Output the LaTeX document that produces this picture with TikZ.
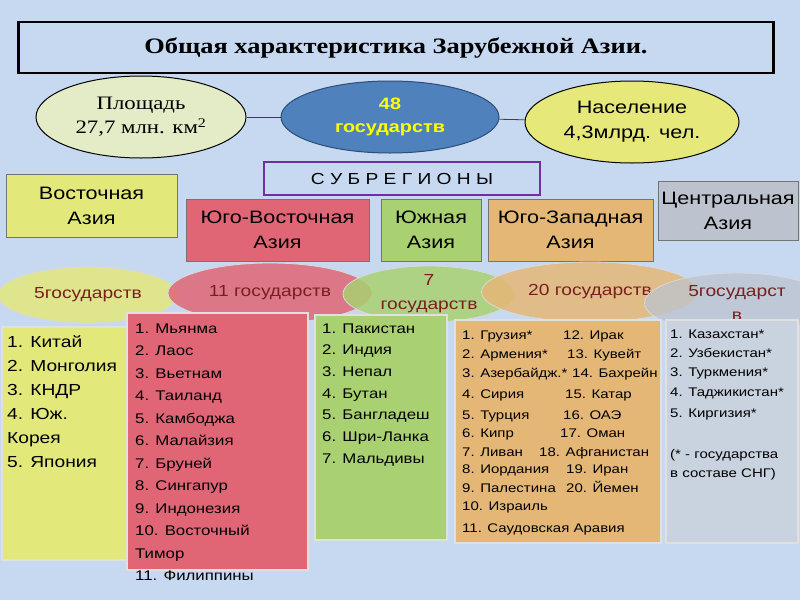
\documentclass[tikz,border=0pt]{standalone}
\usepackage{fontspec}
\setmainfont[FakeStretch=1.2]{Liberation Sans}
\newfontfamily\serifwide[FakeStretch=1.2]{Liberation Serif}
\usetikzlibrary{shapes.geometric}

\definecolor{slide_blue}{HTML}{C6D9F1}
\definecolor{east_green}{HTML}{E3E87B}
\definecolor{se_red}{HTML}{E06676}
\definecolor{south_green}{HTML}{A9D171}
\definecolor{sw_orange}{HTML}{E5B776}
\definecolor{central_grey}{HTML}{BCC3CE}
\definecolor{central_list}{HTML}{C9D2DF}
\definecolor{count_text}{HTML}{7A1F1F}
\definecolor{area_cream}{HTML}{E4EBC7}
\definecolor{people_yellow}{HTML}{E6E87A}
\definecolor{states_blue}{HTML}{4F81BD}
\definecolor{states_edge}{HTML}{2C4D75}
\definecolor{sub_purple}{HTML}{7030A0}
\definecolor{number_yellow}{HTML}{FFFF00}

\tikzset{
        boxnode/.style={align=center,inner sep=0pt},
        % Title frame
        node_title/.style={boxnode, rectangle, draw=black, line width=2.2pt, font=\serifwide\bfseries\fontsize{22}{26}\selectfont},
        % Ovals on top
        node_fact/.style={boxnode, ellipse, draw=black, line width=1pt},
        % Header of subregions
        node_header/.style={boxnode, rectangle, draw=sub_purple, line width=2pt, font=\fontsize{16}{18}\selectfont},
        % Subregion names
        node_region/.style={boxnode, rectangle, draw=black!55, line width=0.8pt, font=\fontsize{18}{25}\selectfont},
        % Number of states
        node_count/.style={boxnode, ellipse, draw=white!85!black, line width=0.8pt, fill opacity=0.85, text opacity=1, text=count_text, font=\fontsize{16}{24}\selectfont},
        % Country lists
        node_list/.style={rectangle, draw=white!88!black, line width=1.2pt, inner sep=0pt},
        % One line of a list
        node_item/.style={anchor=base west, inner sep=0pt},
        % Line between ovals
        line_link/.style={draw=black!75, line width=0.8pt}
}

\begin{document}
\begin{tikzpicture}[x=1pt, y=-1pt]
    \useasboundingbox (0,0) rectangle (800,600);
    \fill[slide_blue] (0,0) rectangle (800,600);

    \node[node_title, minimum width=755pt, minimum height=51pt] (title) at (396,47.5) {Общая характеристика Зарубежной Азии.};

    \node[node_fact, fill=area_cream, minimum width=210pt, minimum height=82pt, font=\serifwide\fontsize{19}{24}\selectfont] (area) at (141,117) {Площадь\\27,7 млн. км\textsuperscript{2}};
    \node[node_fact, fill=states_blue, draw=states_edge, minimum width=218pt, minimum height=72pt, text=number_yellow, font=\bfseries\fontsize{16.5}{23}\selectfont] (states) at (390,117) {48\\государств};
    \node[node_fact, fill=people_yellow, minimum width=214pt, minimum height=82pt, font=\fontsize{18}{25}\selectfont] (people) at (632,122) {Население\\4,3млрд. чел.};
    \draw[line_link] (area) -- (states);
    \draw[line_link] (states) -- (people);

    \node[node_header, fill=slide_blue, minimum width=276pt, minimum height=33pt] (subregions) at (402,178.5) {С У Б Р Е Г И О Н Ы};

    \node[node_region, fill=east_green, minimum width=171pt, minimum height=63pt] (east_region) at (91.5,205.5) {Восточная\\Азия};
    \node[node_region, fill=se_red, minimum width=183pt, minimum height=62pt] (se_region) at (277.5,230) {Юго-Восточная\\Азия};
    \node[node_region, fill=south_green, minimum width=100pt, minimum height=62pt] (south_region) at (431,230) {Южная\\Азия};
    \node[node_region, fill=sw_orange, minimum width=165pt, minimum height=62pt] (sw_region) at (570.5,230) {Юго-Западная\\Азия};
    \node[node_region, fill=central_grey, minimum width=140pt, minimum height=59pt] (central_region) at (728,210.5) {Центральная\\Азия};

    \node[node_count, fill=east_green, minimum width=180pt, minimum height=56pt] (east_count) at (88,295) {5государств};
    \node[node_count, fill=se_red, minimum width=204pt, minimum height=60pt] (se_count) at (270,293) {11 государств};
    \node[node_count, fill=south_green, minimum width=172pt, minimum height=56pt] (south_count) at (429,294) {7\\государств};
    \node[node_count, fill=sw_orange, minimum width=217pt, minimum height=60pt] (sw_count) at (590,292) {20 государств};
    \node[node_count, fill=central_grey, fill opacity=0.75, minimum width=185pt, minimum height=60pt] (central_count) at (737,303) {5государст\\в};

    \node[node_list, fill=east_green, minimum width=133pt, minimum height=233pt] (east_list) at (68.5,443.5) {};
    \foreach \txt [count=\i] in {1. Китай, 2. Монголия, 3. КНДР, 4. Юж., Корея, 5. Япония}
        \node[node_item, font=\fontsize{16}{20}\selectfont] (east_item\i) at (7,347+24*\i-24) {\txt};

    \node[node_list, fill=se_red, minimum width=181pt, minimum height=257pt] (se_list) at (217.5,441.5) {};
    \foreach \txt [count=\i] in {1. Мьянма, 2. Лаос, 3. Вьетнам, 4. Таиланд, 5. Камбоджа, 6. Малайзия, 7. Бруней, 8. Сингапур, 9. Индонезия, 10. Восточный, Тимор, 11. Филиппины}
        \node[node_item, font=\fontsize{14}{18}\selectfont] (se_item\i) at (135,333+22.5*\i-22.5) {\txt};

    \node[node_list, fill=south_green, minimum width=132pt, minimum height=225pt] (south_list) at (381,427.5) {};
    \foreach \txt [count=\i] in {1. Пакистан, 2. Индия, 3. Непал, 4. Бутан, 5. Бангладеш, 6. Шри-Ланка, 7. Мальдивы}
        \node[node_item, font=\fontsize{14}{18}\selectfont] (south_item\i) at (322,333+21.7*\i-21.7) {\txt};

    \node[node_list, fill=sw_orange, minimum width=206pt, minimum height=223pt] (sw_list) at (558,431.5) {};
    \foreach \txt/\yy [count=\i] in {1. Грузия*/339, 2. Армения*/358, 3. Азербайдж.*/377, 4. Сирия/398, 5. Турция/419, 6. Кипр/437, 7. Ливан/456, 8. Иордания/473, 9. Палестина/492, 10. Израиль/510, 11. Саудовская Аравия/532}
        \node[node_item, font=\fontsize{12.5}{16}\selectfont] (sw_left\i) at (462,\yy) {\txt};
    \foreach \txt/\xx/\yy [count=\i from 12] in {12. Ирак/563/339, 13. Кувейт/567/358, 14. Бахрейн/572/377, 15. Катар/565/398, 16. ОАЭ/563/419, 17. Оман/560/437, 18. Афганистан/539/456, 19. Иран/566/473, 20. Йемен/566/492}
        \node[node_item, font=\fontsize{12.5}{16}\selectfont] (sw_right\i) at (\xx,\yy) {\txt};

    \node[node_list, fill=central_list, minimum width=132pt, minimum height=223pt] (central_list) at (732,431.5) {};
    \foreach \txt/\yy [count=\i] in {1. Казахстан*/338, 2. Узбекистан*/357, 3. Туркмения*/376, 4. Таджикистан*/396, 5. Киргизия*/417, {(* - государства}/458, {в составе СНГ)}/477}
        \node[node_item, font=\fontsize{12.5}{16}\selectfont] (central_item\i) at (670,\yy) {\txt};
\end{tikzpicture}
\end{document}
